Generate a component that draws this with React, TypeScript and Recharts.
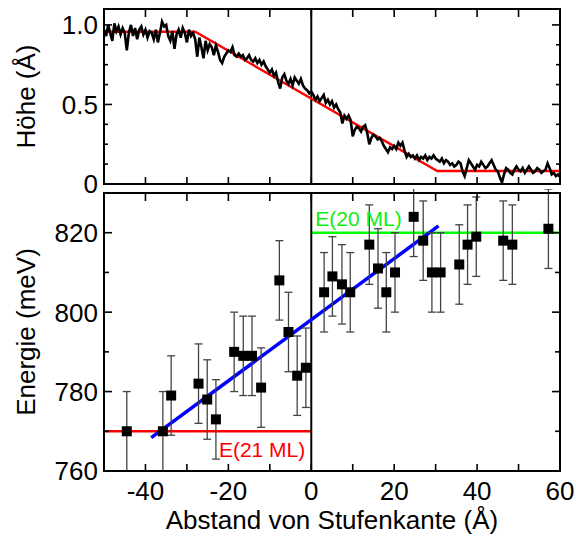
import React from "react";
import {
  ComposedChart,
  Line,
  Scatter,
  ErrorBar,
  XAxis,
  YAxis,
  ReferenceLine,
  LabelList,
} from "recharts";

const FONT = '"Liberation Sans", Arial, Helvetica, sans-serif';

// height profile across the step edge, sampled every 0.5 Å from -50 Å
const PROFILE_START = -50;
const PROFILE_STEP = 0.5;
const heightProfile = [
  // -50 .. -28
  0.97, 0.93, 1.0, 0.95, 0.9, 1.01, 0.96, 0.99, 0.94, 0.98, 0.95, 0.84, 0.95,
  1.0, 0.93, 0.98, 0.91, 0.97, 0.99, 0.94, 0.97, 0.92, 0.96, 0.95, 0.91, 0.97,
  0.89, 0.95, 1.02, 0.99, 1.0, 0.93, 0.9, 0.96, 0.85, 0.94, 0.97, 0.92, 0.98,
  0.95, 0.89, 0.97, 0.93, 0.95, 0.91,
  // -27.5 .. -19
  0.8, 0.92, 0.86, 0.79, 0.9, 0.84, 0.88, 0.86, 0.81, 0.87, 0.83, 0.78, 0.76,
  0.8, 0.82, 0.84, 0.83, 0.86,
  // -18.5 .. 0
  0.81, 0.8, 0.82, 0.8, 0.81, 0.78, 0.79, 0.81, 0.78, 0.77, 0.79, 0.76, 0.78,
  0.75, 0.77, 0.74, 0.72, 0.7, 0.72, 0.68, 0.7, 0.64, 0.6, 0.67, 0.69, 0.65,
  0.63, 0.66, 0.62, 0.67, 0.65, 0.63, 0.66, 0.62, 0.6, 0.59, 0.57, 0.58,
  // 0.5 .. 30
  0.56, 0.53, 0.55, 0.52, 0.54, 0.56, 0.51, 0.53, 0.5, 0.52, 0.48, 0.5, 0.47,
  0.45, 0.38, 0.43, 0.41, 0.43, 0.4, 0.3, 0.34, 0.36, 0.35, 0.33, 0.36, 0.37,
  0.32, 0.25, 0.29, 0.31, 0.3, 0.28, 0.29, 0.27, 0.24, 0.22, 0.2, 0.23, 0.22,
  0.24, 0.22, 0.26, 0.24, 0.26, 0.21, 0.17, 0.19, 0.17, 0.18, 0.16, 0.18, 0.15,
  0.17, 0.16, 0.18, 0.15, 0.17, 0.16, 0.18, 0.16,
  // 30.5 .. 60
  0.15, 0.14, 0.16, 0.13, 0.15, 0.14, 0.12, 0.13, 0.11, 0.12, 0.14, 0.13, 0.08,
  0.05, 0.1, 0.15, 0.13, 0.11, 0.09, 0.12, 0.11, 0.14, 0.12, 0.1, 0.11, 0.13,
  0.15, 0.12, 0.09, 0.08, 0.04, 0.01, 0.06, 0.1, 0.09, 0.07, 0.06, 0.09, 0.11,
  0.09, 0.08, 0.1, 0.07, 0.09, 0.11, 0.09, 0.07, 0.08, 0.1, 0.09, 0.07, 0.08,
  0.09, 0.13, 0.1, 0.06, 0.07, 0.05, 0.06, 0.045,
];

// model profile (red)
const fitX = [-50, -28, 30.4, 60];
const fitH = [0.957, 0.957, 0.082, 0.082];

// measured energies with error bars
const stepX = [
  -44.5, -35.8, -33.8, -27.2, -25.1, -23.0, -18.6, -16.4, -14.3, -12.1, -7.7,
  -5.5, -3.4, -1.3, 3.1, 5.1, 7.4, 9.4, 14.0, 16.1, 18.1, 20.2, 24.7, 27.0,
  29.1, 31.2, 35.7, 37.7, 39.8, 46.3, 48.5, 57.2,
];
const energy = [
  770, 770, 779, 782, 778, 773, 790, 789, 789, 781, 808, 795, 784, 786, 805,
  809, 807, 805, 817, 811, 805, 810, 824, 818, 810, 810, 812, 817, 819, 818,
  817, 821,
];
const energyErr = [
  10, 10, 10, 10, 10, 10, 10, 10, 10, 10, 10, 10, 10, 10, 10, 10, 10, 10, 10,
  10, 10, 10, 10, 10, 10, 10, 10, 10, 10, 10, 10, 10,
];

// linear fit (blue) and the two film levels
const trendX = [-38.6, 30.7];
const trendE = [768.4, 821.7];
const level21X = [-50, 0];
const level21E = [770, 770];
const level20X = [0, 60];
const level20E = [820, 820];

const xTicks = [-50, -40, -30, -20, -10, 0, 10, 20, 30, 40, 50, 60];
const xLabelled = [-40, -20, 0, 20, 40, 60];
const heightTicks = [0, 0.125, 0.25, 0.375, 0.5, 0.625, 0.75, 0.875, 1.0];
const heightLabelled = [0, 0.5, 1.0];
const energyTicks = [760, 770, 780, 790, 800, 810, 820, 830];
const energyLabelled = [760, 780, 800, 820];

const heightData = heightProfile.map((h, i) => ({
  x: PROFILE_START + i * PROFILE_STEP,
  h,
}));
const fitData = fitX.map((x, i) => ({ x, h: fitH[i] }));
const energyData = stepX.map((x, i) => ({ x, e: energy[i], err: energyErr[i] }));
const trendData = trendX.map((x, i) => ({ x, e: trendE[i] }));
const level21Data = level21X.map((x, i) => ({ x, e: level21E[i] }));
const level20Data = level20X.map((x, i) => ({ x, e: level20E[i] }));

const near = (a: number, b: number) => Math.abs(a - b) < 1e-6;

type Side = "left" | "right" | "top" | "bottom";

function makeTick(
  side: Side,
  major: number[],
  labelled: number[],
  fmt: (v: number) => string,
  majorLen: number,
  minorLen: number
) {
  return function Tick(props: any) {
    const { x, y, payload } = props;
    const v: number = payload.value;
    const len = major.some((m) => near(m, v)) ? majorLen : minorLen;
    let x2 = x;
    let y2 = y;
    if (side === "left") x2 = x + len;
    if (side === "right") x2 = x - len;
    if (side === "top") y2 = y + len;
    if (side === "bottom") y2 = y - len;
    const show = labelled.some((m) => near(m, v));
    return (
      <g>
        <line x1={x} y1={y} x2={x2} y2={y2} stroke="#000" strokeWidth={1.6} />
        {show && side === "left" && (
          <text
            x={x - 6}
            y={y}
            dy="0.36em"
            textAnchor="end"
            fontSize={26}
            fontFamily={FONT}
            fill="#000"
          >
            {fmt(v)}
          </text>
        )}
        {show && side === "bottom" && (
          <text
            x={x}
            y={y + 29}
            textAnchor="middle"
            fontSize={26}
            fontFamily={FONT}
            fill="#000"
          >
            {fmt(v)}
          </text>
        )}
      </g>
    );
  };
}

const frame = { stroke: "#000", strokeWidth: 2, strokeLinecap: "square" as const };
const intFmt = (v: number) => String(v);
const heightFmt = (v: number) => (v === 0 ? "0" : v.toFixed(1));

const Square = (p: any) => (
  <rect x={p.cx - 5} y={p.cy - 5} width={10} height={10} fill="#000" />
);

const labelAt =
  (idx: number, text: string, color: string, dx: number, dy: number, anchor: string) =>
  (p: any) => {
    if (p.index !== idx) return null;
    const vx = p.viewBox?.x ?? p.x;
    const vy = p.viewBox?.y ?? p.y;
    return (
      <text
        x={vx + dx}
        y={vy + dy}
        textAnchor={anchor}
        fontSize={21}
        fontFamily={FONT}
        fill={color}
      >
        {text}
      </text>
    );
  };

const App = () => {
  return (
    <div
      style={{
        position: "absolute",
        left: 0,
        top: 0,
        width: 576,
        height: 536,
        background: "#fff",
        fontFamily: FONT,
      }}
    >
      <div style={{ position: "absolute", left: 0, top: 0, width: 576, height: 198 }}>
        <ComposedChart
          width={576}
          height={198}
          margin={{ top: 8, right: 15, bottom: 13, left: 0 }}
        >
          <XAxis
            dataKey="x"
            type="number"
            domain={[-50, 60]}
            ticks={xTicks}
            interval={0}
            height={1}
            tickSize={0}
            tickMargin={0}
            tickLine={false}
            axisLine={frame}
            allowDataOverflow
            tick={makeTick("bottom", xTicks, [], intFmt, 7, 7)}
          />
          <XAxis
            xAxisId="t"
            orientation="top"
            dataKey="x"
            type="number"
            domain={[-50, 60]}
            ticks={xTicks}
            interval={0}
            height={1}
            tickSize={0}
            tickMargin={0}
            tickLine={false}
            axisLine={frame}
            allowDataOverflow
            tick={makeTick("top", xTicks, [], intFmt, 8, 8)}
          />
          <YAxis
            type="number"
            domain={[0, 1.1]}
            ticks={heightTicks}
            interval={0}
            width={104}
            tickSize={0}
            tickMargin={0}
            tickLine={false}
            axisLine={frame}
            allowDataOverflow
            tick={makeTick("left", heightLabelled, heightLabelled, heightFmt, 8, 4)}
            label={{
              value: "Höhe (Å)",
              angle: -90,
              position: "insideLeft",
              offset: 26,
              fontSize: 26,
              fill: "#000",
              fontFamily: FONT,
              style: { textAnchor: "middle" },
            }}
          />
          <YAxis
            yAxisId="r"
            orientation="right"
            type="number"
            domain={[0, 1.1]}
            ticks={heightTicks}
            interval={0}
            width={1}
            tickSize={0}
            tickMargin={0}
            tickLine={false}
            axisLine={frame}
            allowDataOverflow
            tick={makeTick("right", heightLabelled, [], heightFmt, 8, 4)}
          />
          <ReferenceLine x={0} stroke="#000" strokeWidth={2} />
          <Line
            data={fitData}
            dataKey="h"
            type="linear"
            stroke="#ff0000"
            strokeWidth={2.4}
            dot={false}
            isAnimationActive={false}
          />
          <Line
            data={heightData}
            dataKey="h"
            type="linear"
            stroke="#000"
            strokeWidth={2.6}
            strokeLinejoin="miter"
            dot={false}
            isAnimationActive={false}
          />
        </ComposedChart>
      </div>

      <div
        style={{
          position: "absolute",
          left: 0,
          top: 189,
          width: 576,
          height: 347,
          overflow: "hidden",
        }}
      >
        <ComposedChart
          width={576}
          height={347}
          margin={{ top: 3, right: 15, bottom: 0, left: 0 }}
        >
          <XAxis
            dataKey="x"
            type="number"
            domain={[-50, 60]}
            ticks={xTicks}
            interval={0}
            height={65}
            tickSize={0}
            tickMargin={0}
            tickLine={false}
            axisLine={frame}
            allowDataOverflow
            tick={makeTick("bottom", xTicks, xLabelled, intFmt, 7, 7)}
            label={{
              value: "Abstand von Stufenkante (Å)",
              position: "insideBottom",
              offset: 7,
              fontSize: 26,
              fill: "#000",
              fontFamily: FONT,
            }}
          />
          <XAxis
            xAxisId="t"
            orientation="top"
            dataKey="x"
            type="number"
            domain={[-50, 60]}
            ticks={xTicks}
            interval={0}
            height={1}
            tickSize={0}
            tickMargin={0}
            tickLine={false}
            axisLine={frame}
            allowDataOverflow
            tick={makeTick("top", xTicks, [], intFmt, 8, 8)}
          />
          <YAxis
            type="number"
            domain={[760, 830]}
            ticks={energyTicks}
            interval={0}
            width={104}
            tickSize={0}
            tickMargin={0}
            tickLine={false}
            axisLine={frame}
            allowDataOverflow
            tick={makeTick("left", energyLabelled, energyLabelled, intFmt, 8, 5)}
            label={{
              value: "Energie (meV)",
              angle: -90,
              position: "insideLeft",
              offset: 26,
              fontSize: 26,
              fill: "#000",
              fontFamily: FONT,
              style: { textAnchor: "middle" },
            }}
          />
          <YAxis
            yAxisId="r"
            orientation="right"
            type="number"
            domain={[760, 830]}
            ticks={energyTicks}
            interval={0}
            width={1}
            tickSize={0}
            tickMargin={0}
            tickLine={false}
            axisLine={frame}
            allowDataOverflow
            tick={makeTick("right", energyLabelled, [], intFmt, 8, 5)}
          />
          <Line
            data={level21Data}
            dataKey="e"
            type="linear"
            stroke="#ff0000"
            strokeWidth={2.5}
            dot={false}
            isAnimationActive={false}
          >
            <LabelList
              dataKey="e"
              content={labelAt(1, "E(21 ML)", "#ff0000", -6, 26, "end")}
            />
          </Line>
          <Line
            data={level20Data}
            dataKey="e"
            type="linear"
            stroke="#00ff00"
            strokeWidth={2.5}
            dot={false}
            isAnimationActive={false}
          >
            <LabelList
              dataKey="e"
              content={labelAt(0, "E(20 ML)", "#10ee10", 4, -7, "start")}
            />
          </Line>
          <ReferenceLine x={0} stroke="#000" strokeWidth={2} />
          <Line
            data={trendData}
            dataKey="e"
            type="linear"
            stroke="#0000ff"
            strokeWidth={3.5}
            dot={false}
            isAnimationActive={false}
          />
          <Scatter
            data={energyData}
            dataKey="e"
            shape={Square}
            isAnimationActive={false}
          >
            <ErrorBar
              dataKey="err"
              direction="y"
              width={4}
              stroke="#444"
              strokeWidth={1.3}
            />
          </Scatter>
        </ComposedChart>
      </div>
    </div>
  );
};

export default App;
